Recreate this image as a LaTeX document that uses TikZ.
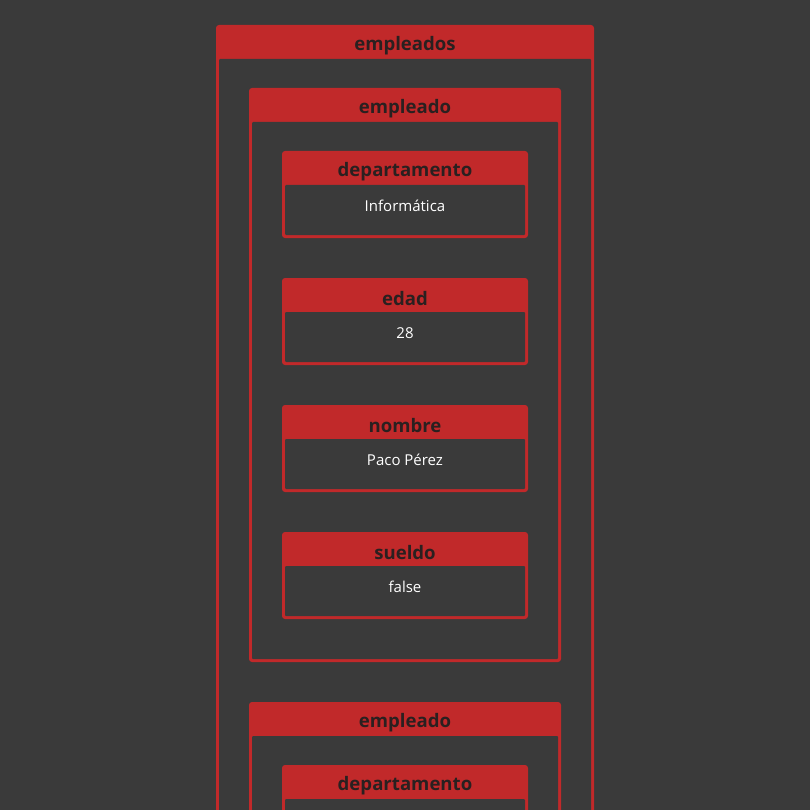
\documentclass[tikz,border=0pt]{standalone}
\usepackage{fontspec}
\setmainfont{Open Sans}
\definecolor{bg}{HTML}{3A3A3A}
\definecolor{jred}{HTML}{C1292A}
\definecolor{htext}{HTML}{2A2020}
\tikzset{
  title/.style={font=\fontsize{18.6}{22}\selectfont\bfseries, text=htext, inner sep=0pt, anchor=center},
  val/.style={font=\fontsize{15}{18}\selectfont, text=white, inner sep=0pt, anchor=center}
}
\newcommand{\jbox}[6]{%
  \fill[jred, rounded corners=3pt] (#2,#3) rectangle (#4,#5);
  \fill[bg, rounded corners=1pt] (#2+3,#3+34) rectangle (#4-3,#5-3);
  \node[title] (#1) at ({(#2+#4)/2},#3+20.5) {#6};
}
\begin{document}
\begin{tikzpicture}[x=1pt,y=-1pt]
\fill[bg] (0,0) rectangle (810,810);
\useasboundingbox (0,0) rectangle (810,810);
\clip (0,0) rectangle (810,810);
\jbox{empleados}{216}{25}{594}{900}{empleados}
\jbox{emp1}{249}{88}{561}{662}{empleado}
\jbox{dep1}{282}{151}{528}{238}{departamento}
\node[val] (dep1v) at (405,206) {Informática};
\jbox{edad1}{282}{278}{528}{365}{edad}
\node[val] (edad1v) at (405,333) {28};
\jbox{nom1}{282}{405}{528}{492}{nombre}
\node[val] (nom1v) at (405,460) {Paco Pérez};
\jbox{sue1}{282}{532}{528}{619}{sueldo}
\node[val] (sue1v) at (405,587) {false};
\jbox{emp2}{249}{702}{561}{900}{empleado}
\jbox{dep2}{282}{765}{528}{900}{departamento}
\end{tikzpicture}
\end{document}
